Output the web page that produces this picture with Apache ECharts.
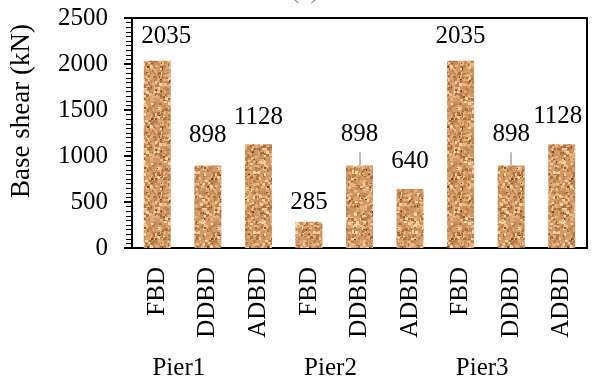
<!DOCTYPE html>
<html>
<head>
<meta charset="utf-8">
<script src="https://cdn.jsdelivr.net/npm/echarts@6/dist/echarts.min.js"></script>
<style>
  html, body { margin: 0; padding: 0; background: #fff; }
  #chart { width: 593px; height: 383px; }
</style>
</head>
<body>
<div id="chart"></div>
<script>
// Base shear per pier and design method
const methods = ['FBD', 'DDBD', 'ADBD', 'FBD', 'DDBD', 'ADBD', 'FBD', 'DDBD', 'ADBD'];
const piers = ['Pier1', 'Pier2', 'Pier3'];
const baseShear = [2035, 898, 1128, 285, 898, 640, 2035, 898, 1128];
const yTickValues = [0, 500, 1000, 1500, 2000, 2500];
// bars whose value label sits on a short leader line
const leaderBars = [4, 7];

const FONT = "'Times New Roman', 'Liberation Serif', serif";

// label nudges [dx, dy] in pixels, one per bar
const labelNudge = [[9, -7], [0, -12], [0, -9], [0, -2], [0, -13], [0, -10], [0, -7], [0, -13], [-4, -10]];

// cork-like fill texture, painted on a small canvas and handed over as a PNG data URL
function corkTexture() {
  const size = 60;
  const c = document.createElement('canvas');
  c.width = size; c.height = size;
  const g = c.getContext('2d');
  g.fillStyle = 'rgb(208,152,100)';
  g.fillRect(0, 0, size, size);
  let s = 12345;
  const rnd = () => { s = (s * 1103515245 + 12345) & 0x7fffffff; return s / 0x7fffffff; };
  const tones = [
    [232, 186, 134], [244, 212, 168], [190, 128, 76], [220, 166, 112],
    [176, 112, 62], [226, 176, 122], [198, 140, 88]
  ];
  for (let i = 0; i < 700; i++) {
    const t = tones[Math.floor(rnd() * tones.length)];
    const w = 2 + Math.floor(rnd() * 2), h = 2 + Math.floor(rnd() * 2);
    g.fillStyle = 'rgb(' + t[0] + ',' + t[1] + ',' + t[2] + ')';
    g.fillRect(Math.floor(rnd() * size), Math.floor(rnd() * size), w, h);
  }
  for (let i = 0; i < 40; i++) {
    g.fillStyle = rnd() < 0.5 ? 'rgb(130,66,34)' : 'rgb(150,84,44)';
    g.fillRect(Math.floor(rnd() * size), Math.floor(rnd() * size), 1 + Math.floor(rnd() * 2), 1 + Math.floor(rnd() * 2));
  }
  return c.toDataURL('image/png');
}

const chart = echarts.init(document.getElementById('chart'));

const leaderLines = leaderBars.map(i => [
  { coord: [i, baseShear[i]] },
  { coord: [i, baseShear[i] + 142] }
]);

const yRange = {
  type: 'value',
  min: yTickValues[0],
  max: yTickValues[yTickValues.length - 1],
  interval: yTickValues[1] - yTickValues[0]
};

chart.setOption({
  animation: false,
  title: {
    text: '(a)',
    left: 286,
    top: -26,
    textStyle: { fontFamily: FONT, fontSize: 25, fontWeight: 'normal', color: '#888' }
  },
  graphic: [{
    // vertical axis title
    type: 'text',
    x: 22,
    y: 111,
    rotation: Math.PI / 2,
    style: {
      text: 'Base shear (kN)',
      font: "27px 'Times New Roman', 'Liberation Serif', serif",
      fill: '#000',
      textAlign: 'center',
      textVerticalAlign: 'middle'
    }
  }],
  grid: { left: 132, right: 6, top: 18, bottom: 135 },
  xAxis: [
    {
      type: 'category',
      data: methods,
      position: 'bottom',
      axisLine: { lineStyle: { color: '#000', width: 2 } },
      axisTick: { show: false },
      axisLabel: {
        rotate: 90, margin: 19, interval: 0,
        fontFamily: FONT, fontSize: 25, color: '#000'
      }
    },
    {
      type: 'category',
      data: piers,
      position: 'bottom',
      axisLine: { show: false },
      axisTick: { show: false },
      axisLabel: {
        margin: 108, interval: 0,
        padding: [0, 58, 0, 0],
        fontFamily: FONT, fontSize: 25, color: '#000'
      }
    },
    {
      // top frame edge
      type: 'category',
      data: methods,
      position: 'top',
      axisLine: { show: true, lineStyle: { color: '#000', width: 2 } },
      axisTick: { show: false },
      axisLabel: { show: false }
    }
  ],
  yAxis: [
    Object.assign({}, yRange, {
      position: 'left',
      axisLine: { show: true, lineStyle: { color: '#000', width: 2 } },
      axisTick: { show: true, length: 8, lineStyle: { color: '#000', width: 2 } },
      minorTick: { show: true, splitNumber: 10, length: 6, lineStyle: { color: '#000' } },
      splitLine: { show: false },
      axisLabel: {
        margin: 24, fontFamily: FONT, fontSize: 25, color: '#000',
        formatter: v => String(v)
      }
    }),
    Object.assign({}, yRange, {
      // right frame edge
      position: 'right',
      axisLine: { show: true, lineStyle: { color: '#000', width: 2 } },
      axisTick: { show: false },
      axisLabel: { show: false },
      splitLine: { show: false }
    })
  ],
  series: [{
    type: 'bar',
    xAxisIndex: 0,
    yAxisIndex: 0,
    barWidth: 27,
    data: baseShear.map((v, i) => ({
      value: v,
      label: { offset: labelNudge[i] }
    })),
    itemStyle: { color: { image: corkTexture(), repeat: 'repeat' } },
    label: {
      show: true, position: 'top', distance: 5,
      fontFamily: FONT, fontSize: 25, color: '#000',
      formatter: p => String(p.value)
    },
    markLine: {
      silent: true,
      symbol: 'none',
      label: { show: false },
      lineStyle: { color: '#a6a6a6', width: 1.5, type: 'solid' },
      data: leaderLines
    }
  }]
});
</script>
</body>
</html>
